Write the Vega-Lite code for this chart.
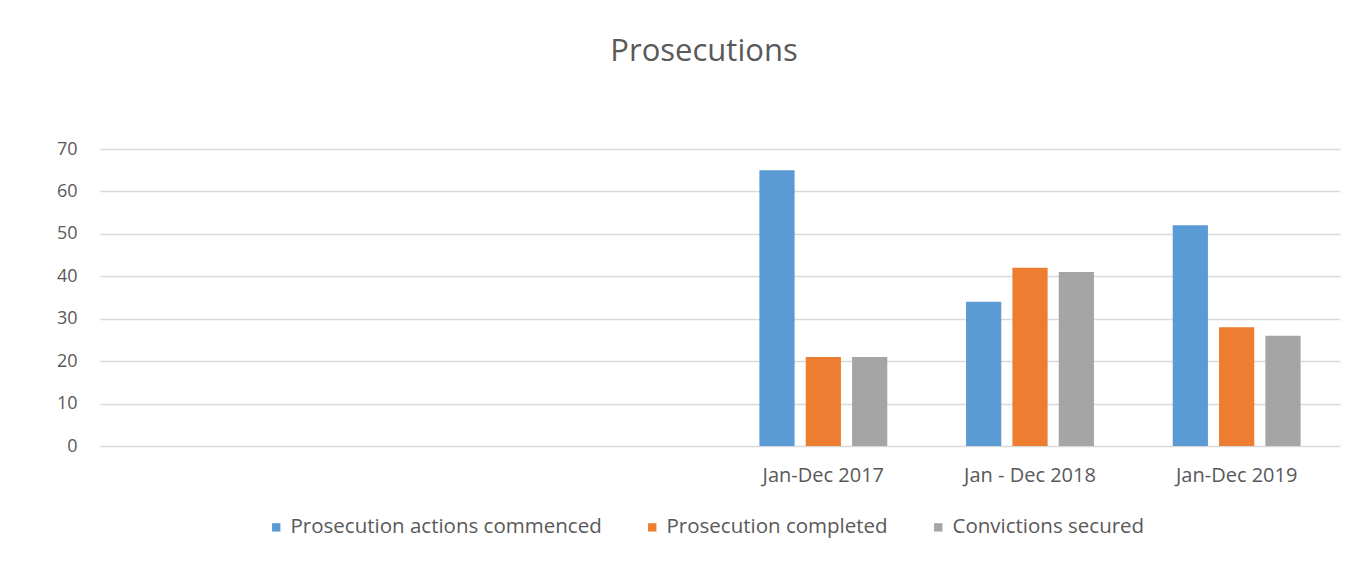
{
  "$schema": "https://vega.github.io/schema/vega-lite/v6.json",
  "width": 1240,
  "height": 297,
  "autosize": {"type": "none"},
  "padding": {"left": 100, "top": 149, "right": 17, "bottom": 124},
  "background": "white",
  "title": {
    "text": "Prosecutions",
    "fontSize": 31,
    "font": "Open Sans",
    "fontWeight": "normal",
    "color": "#595959",
    "anchor": "middle",
    "dx": -16,
    "offset": 72
  },
  "data": {
    "values": [
      {"period": "Jan-Dec 2017", "series": "Prosecution actions commenced", "value": 65},
      {"period": "Jan-Dec 2017", "series": "Prosecution completed", "value": 21},
      {"period": "Jan-Dec 2017", "series": "Convictions secured", "value": 21},
      {"period": "Jan - Dec 2018", "series": "Prosecution actions commenced", "value": 34},
      {"period": "Jan - Dec 2018", "series": "Prosecution completed", "value": 42},
      {"period": "Jan - Dec 2018", "series": "Convictions secured", "value": 41},
      {"period": "Jan-Dec 2019", "series": "Prosecution actions commenced", "value": 52},
      {"period": "Jan-Dec 2019", "series": "Prosecution completed", "value": 28},
      {"period": "Jan-Dec 2019", "series": "Convictions secured", "value": 26}
    ]
  },
  "mark": {"type": "bar"},
  "encoding": {
    "x": {
      "field": "period",
      "type": "nominal",
      "sort": null,
      "scale": {
        "domain": ["_1", "_2", "_3", "Jan-Dec 2017", "Jan - Dec 2018", "Jan-Dec 2019"],
        "paddingInner": 0,
        "paddingOuter": 0
      },
      "axis": {
        "title": null,
        "labelAngle": 0,
        "labelExpr": "indexof(datum.label, '_') == 0 ? '' : datum.label",
        "domain": false,
        "ticks": false,
        "labelFontSize": 20,
        "labelFont": "Open Sans",
        "labelColor": "#595959",
        "labelPadding": 19
      }
    },
    "xOffset": {
      "field": "series",
      "type": "nominal",
      "sort": ["Prosecution actions commenced", "Prosecution completed", "Convictions secured"],
      "scale": {"paddingInner": 0.24, "paddingOuter": 0.85}
    },
    "y": {
      "field": "value",
      "type": "quantitative",
      "scale": {"domain": [0, 70]},
      "axis": {
        "title": null,
        "values": [0, 10, 20, 30, 40, 50, 60, 70],
        "domain": false,
        "ticks": false,
        "grid": true,
        "gridColor": "#D9D9D9",
        "gridWidth": 1.5,
        "labelFontSize": 18,
        "labelFont": "Open Sans",
        "labelColor": "#595959",
        "labelPadding": 23
      }
    },
    "color": {
      "field": "series",
      "type": "nominal",
      "sort": ["Prosecution actions commenced", "Prosecution completed", "Convictions secured"],
      "scale": {
        "domain": ["Prosecution actions commenced", "Prosecution completed", "Convictions secured"],
        "range": ["#5B9BD5", "#ED7D31", "#A5A5A5"]
      },
      "legend": {
        "title": null,
        "orient": "none",
        "direction": "horizontal",
        "legendX": 166,
        "legendY": 368,
        "symbolType": "square",
        "symbolSize": 70,
        "symbolStrokeWidth": 0,
        "labelFontSize": 20.5,
        "labelFont": "Open Sans",
        "labelColor": "#595959",
        "labelOffset": 4,
        "columnPadding": 40,
        "labelLimit": 400
      }
    }
  },
  "config": {"view": {"stroke": null}}
}
